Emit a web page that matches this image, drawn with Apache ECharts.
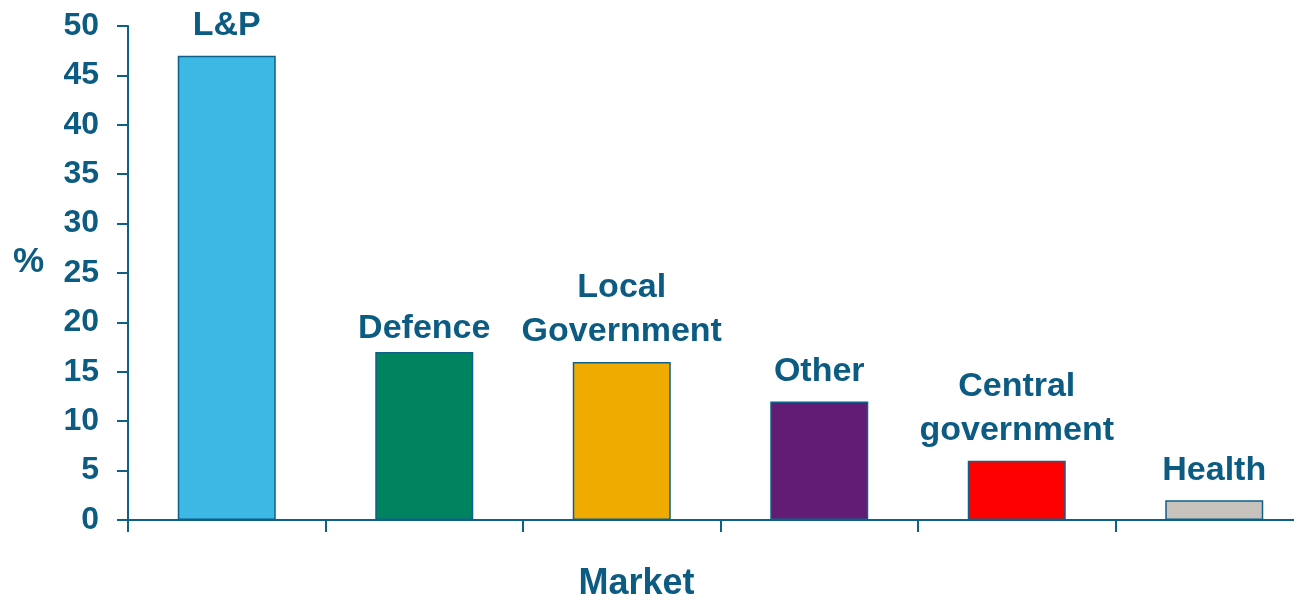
<!DOCTYPE html>
<html>
<head>
<meta charset="utf-8">
<script src="https://cdn.jsdelivr.net/npm/echarts@6/dist/echarts.min.js"></script>
<style>
  html, body { margin: 0; padding: 0; background: #ffffff; overflow: hidden; }
  /* the plot runs slightly past the right edge of the window */
  #chart { width: 1313px; height: 600px; }
</style>
</head>
<body>
<div id="chart"></div>
<script>
// Market share by sector (%)
const categories = ['L&P', 'Defence', 'Local\nGovernment', 'Other', 'Central\ngovernment', 'Health'];
const shares = [47, 17, 16, 12, 6, 2];
const barColors = ['#3db7e4', '#00835f', '#f0ab00', '#621c74', '#ff0000', '#c7c3bc'];
const labelGaps = [8, 1, 8, 8, 8, 8];
const yTicks = [0, 5, 10, 15, 20, 25, 30, 35, 40, 45, 50];

const ink = '#0b5b82';
const lineInk = '#0f6088';
const font = '"Liberation Sans", Arial, Helvetica, sans-serif';

const chart = echarts.init(document.getElementById('chart'), null, { renderer: 'canvas' });

chart.setOption({
  animation: false,
  backgroundColor: '#ffffff',
  grid: { left: 128, right: 0, top: 26, bottom: 80, containLabel: false },
  xAxis: {
    type: 'category',
    data: categories,
    axisLine: { show: true, lineStyle: { color: lineInk, width: 2 } },
    axisTick: { show: true, length: 12, lineStyle: { color: lineInk, width: 2 } },
    axisLabel: { show: false },
    splitLine: { show: false }
  },
  yAxis: {
    type: 'value',
    min: yTicks[0],
    max: yTicks[yTicks.length - 1],
    interval: yTicks[1] - yTicks[0],
    axisLine: { show: true, lineStyle: { color: lineInk, width: 2 } },
    axisTick: { show: true, length: 11, lineStyle: { color: lineInk, width: 2 } },
    axisLabel: {
      margin: 29,
      color: ink,
      fontSize: 32,
      fontWeight: 'bold',
      fontFamily: font
    },
    splitLine: { show: false }
  },
  series: [{
    type: 'bar',
    barWidth: 98,
    data: shares.map((v, i) => ({
      value: v,
      itemStyle: { color: barColors[i] },
      label: { distance: labelGaps[i] }
    })),
    itemStyle: { borderColor: lineInk, borderWidth: 1.5 },
    label: {
      show: true,
      position: 'top',
      formatter: '{b}',
      color: ink,
      fontSize: 34,
      fontWeight: 'bold',
      fontFamily: font,
      lineHeight: 44,
      align: 'center'
    }
  }],
  graphic: [
    {
      type: 'text',
      x: 636.5,
      y: 584,
      style: {
        text: 'Market',
        fill: ink,
        font: 'bold 36px ' + font,
        textAlign: 'center',
        textVerticalAlign: 'middle'
      }
    },
    {
      type: 'text',
      x: 28.5,
      y: 262,
      style: {
        text: '%',
        fill: ink,
        font: 'bold 35px ' + font,
        textAlign: 'center',
        textVerticalAlign: 'middle'
      }
    }
  ]
});
</script>
</body>
</html>
